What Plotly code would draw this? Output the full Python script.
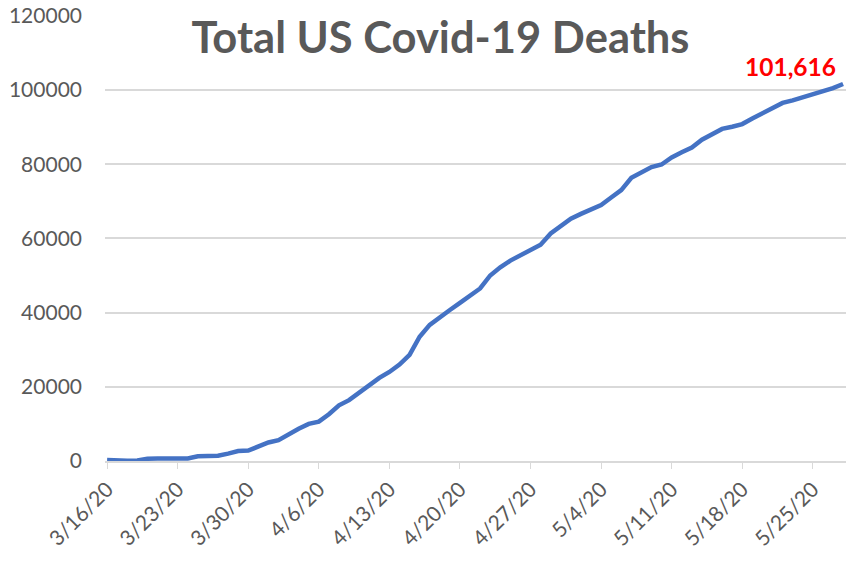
import plotly.graph_objects as go
import pandas as pd

start_date = "2020-03-16"
deaths = [
    300, 100, 100, 150, 600, 700, 700, 700, 700, 1300,
    1400, 1400, 2000, 2700, 2800, 4000, 5000, 5600, 7200, 8700,
    10000, 10600, 12600, 15000, 16400, 18500, 20500, 22400, 24000, 26000,
    28600, 33500, 36700, 38800, 40700, 42600, 44500, 46500, 50000, 52200,
    54000, 55500, 57000, 58300, 61300, 63400, 65300, 66600, 67700, 69000,
    71000, 73000, 76300, 77800, 79200, 79900, 81800, 83200, 84500, 86600,
    88000, 89500, 90100, 90800, 92300, 93800, 95200, 96500, 97200, 98000,
    98700, 99400, 100500, 101616,
]
dates = pd.date_range(start_date, periods=len(deaths), freq="D")
tick_dates = pd.date_range(start_date, periods=11, freq="7D")
tick_labels = [f"{d.month}/{d.day}/20" for d in tick_dates]
y_ticks = [0, 20000, 40000, 60000, 80000, 100000, 120000]
title_text = "Total US Covid-19 Deaths"
final_label = "101,616"

font_family = "Lato, 'Open Sans', sans-serif"
gray = "#595959"
grid = "#d9d9d9"

fig = go.Figure()
fig.add_trace(go.Scatter(
    x=dates, y=deaths, mode="lines",
    line=dict(color="#4472C4", width=4.5),
    hoverinfo="skip",
))

fig.add_annotation(
    x=dates[-1], y=deaths[-1], text=final_label, showarrow=False,
    xanchor="right", yanchor="bottom", yshift=1, xshift=-5,
    font=dict(family=font_family, size=24.5, color="#ff0000", weight="bold"),
)

fig.update_layout(
    width=846, height=562,
    margin=dict(l=105, r=0, t=15, b=101),
    paper_bgcolor="white", plot_bgcolor="white",
    showlegend=False,
    font=dict(family=font_family, color=gray, size=21),
    title=dict(
        text=title_text, x=0.5207, xanchor="center", y=0.9333, yanchor="middle",
        font=dict(family=font_family, size=43.5, color=gray, weight="bold"),
    ),
)
fig.update_xaxes(
    type="date", automargin=False,
    range=[dates[0] - pd.Timedelta(hours=5), dates[-1] + pd.Timedelta(hours=7)],
    tickmode="array", tickvals=tick_dates, ticktext=tick_labels,
    tickangle=-45, ticks="outside", ticklen=6, tickcolor=grid,
    showgrid=False, showline=True, linecolor=grid, linewidth=1.5,
    tickfont=dict(size=21, color=gray), zeroline=False,
    ticklabeloverflow="allow",
)
fig.update_yaxes(
    range=[0, 120200], automargin=False, tickmode="array", tickvals=y_ticks,
    ticktext=[str(v) for v in y_ticks],
    showgrid=True, gridcolor=grid, gridwidth=1.5, zeroline=False,
    showline=False, ticklabelstandoff=22,
    tickfont=dict(size=21, color=gray),
    ticklabeloverflow="allow",
)

# remove the default 8px page margin so the figure fills the window exactly
fig.write_html(
    "out.html",
    config={"displayModeBar": False},
    post_script="document.body.style.margin='0';",
)
